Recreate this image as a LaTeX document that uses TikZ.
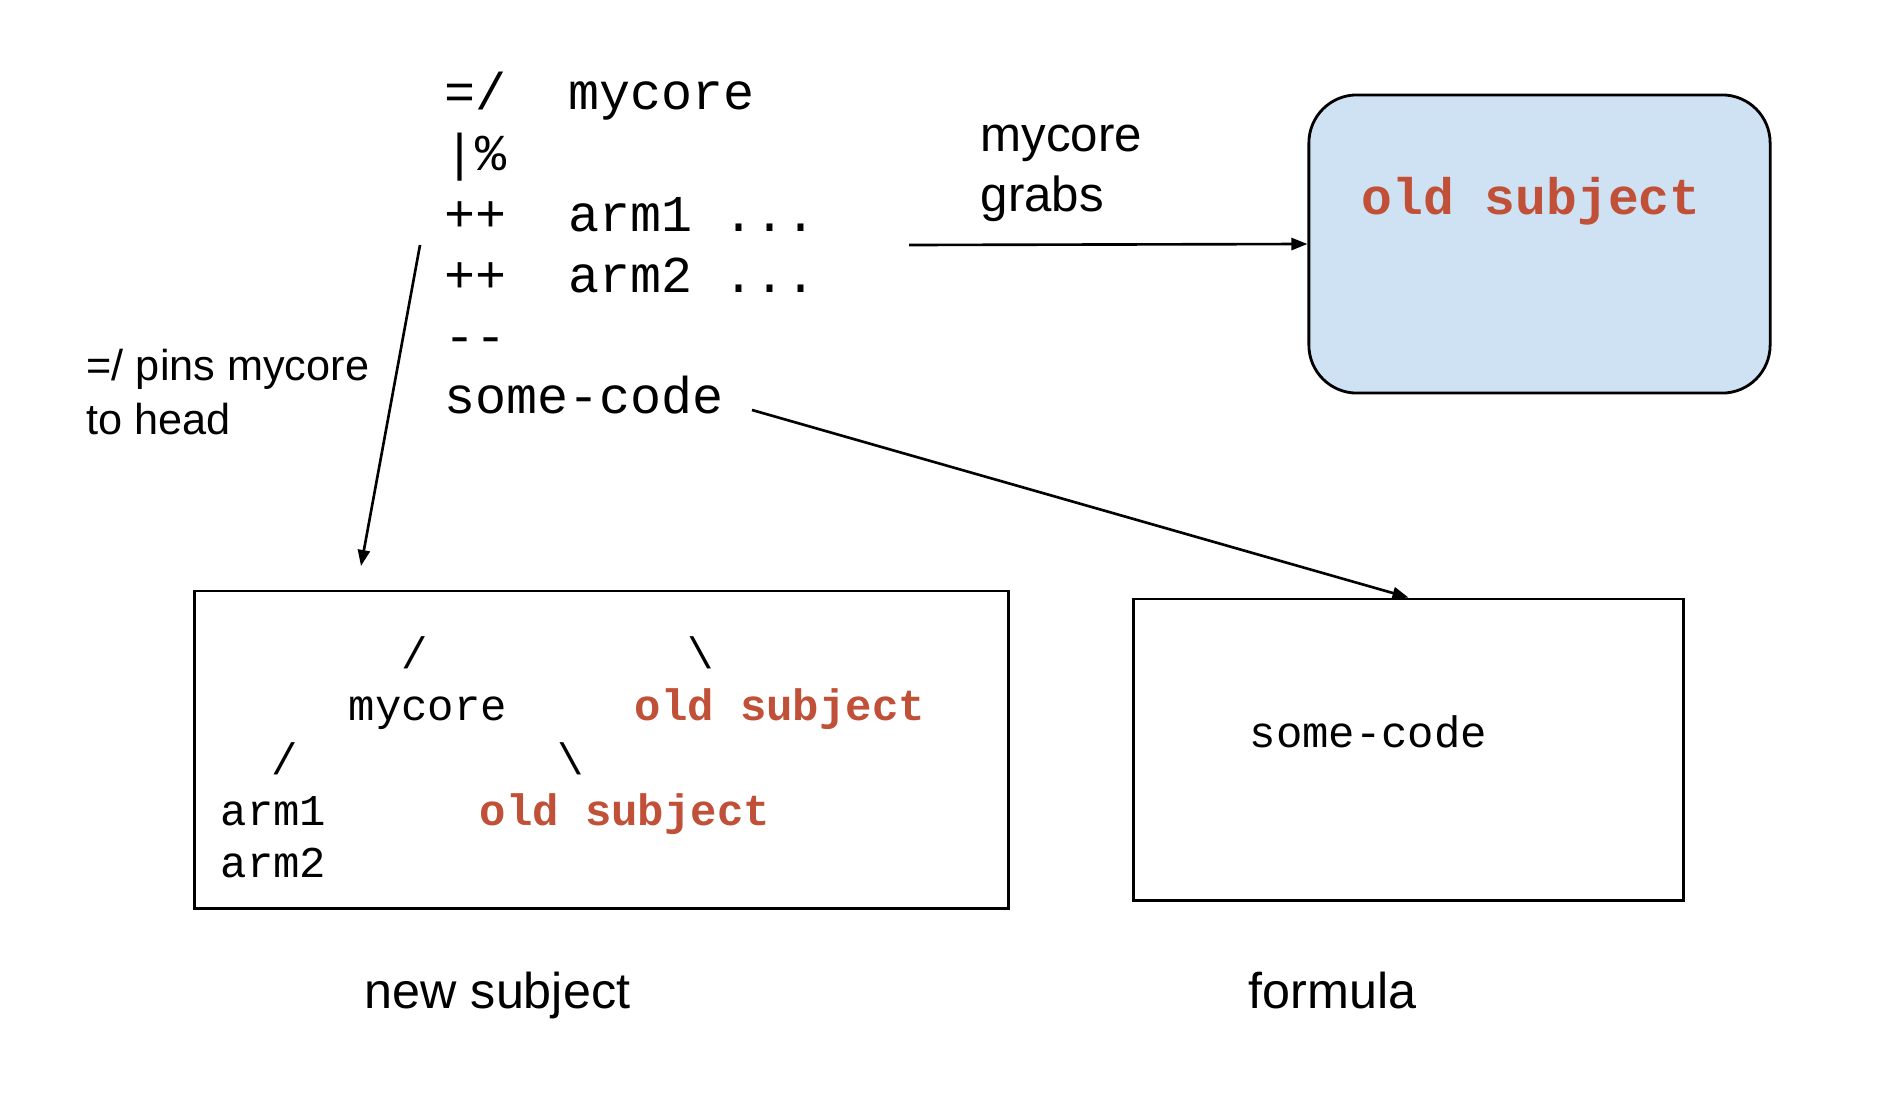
\documentclass[tikz,border=0pt]{standalone}
\usepackage{fontspec}
\setmainfont{Liberation Sans}
\setmonofont{Liberation Mono}
\usetikzlibrary{arrows.meta}
\definecolor{subjred}{RGB}{192,80,56}
\definecolor{subjblue}{RGB}{207,226,243}

\begin{document}
\begin{tikzpicture}[x=0.01cm, y=-0.01cm,
  txt/.style = {inner sep=0pt, anchor=base west},
  code/.style = {txt, font=\ttfamily\fontsize{14.7}{17}\selectfont},
  small/.style = {txt, font=\ttfamily\fontsize{12.5}{15}\selectfont},
  slash/.style = {small, anchor=base},
  oldsmall/.style = {txt, text=subjred, font=\ttfamily\bfseries\fontsize{12.5}{15}\selectfont},
  oldbig/.style = {txt, text=subjred, font=\ttfamily\bfseries\fontsize{14.6}{17}\selectfont},
  caption/.style = {txt, font=\fontsize{14.3}{17}\selectfont},
  box/.style = {draw, line width=0.8pt, inner sep=0pt},
  arr/.style = {-{Triangle[length=0.16cm, width=0.12cm]}, line width=0.75pt}]
\useasboundingbox (0,0) rectangle (1900,1100);

% the code
\node[code] (corehead) at (444,109) {=/\ \ mycore};
\node[code] (pct) at (444,170) {|\%};
\node[code] (arm1) at (444,231) {++\ \ arm1 ...};
\node[code] (arm2) at (444,292) {++\ \ arm2 ...};
\node[code] (dashes) at (444,353) {-{}-};
\node[code] (somecode) at (444,413) {some-code};

% boxes
\node[box, fill=subjblue, rounded corners=0.48cm, minimum width=4.61cm, minimum height=2.98cm] (oldsubj) at (1539.5,244) {};
\node[oldbig] (oldtxt) at (1361,214) {old subject};
\node[box, minimum width=8.13cm, minimum height=3.17cm] (newsubj) at (601.5,749.5) {};
\node[box, minimum width=5.49cm, minimum height=3.01cm] (formula) at (1408.5,749.5) {};

% new subject tree
\node[slash] (s1) at (415,668) {/};
\node[slash] (s2) at (701,668) {\textbackslash};
\node[small] (core) at (348,720) {mycore};
\node[oldsmall] (old1) at (634,720) {old subject};
\node[slash] (s3) at (285,774) {/};
\node[slash] (s4) at (571,774) {\textbackslash};
\node[small] (a1) at (220,825) {arm1};
\node[oldsmall] (old2) at (479,825) {old subject};
\node[small] (a2) at (220,877) {arm2};

% formula
\node[small] (fcode) at (1249,747) {some-code};

% labels
\node[txt, font=\fontsize{14}{16}\selectfont] (grabs1) at (980,151) {mycore};
\node[txt, font=\fontsize{14}{16}\selectfont] (grabs2) at (980,211) {grabs};
\node[txt, font=\fontsize{12.3}{15}\selectfont] (pins1) at (86,380) {=/ pins mycore};
\node[txt, font=\fontsize{12.3}{15}\selectfont] (pins2) at (86,434) {to head};
\node[caption] (newlbl) at (364,1008) {new subject};
\node[caption] (formlbl) at (1248,1008) {formula};

% arrows
\coordinate (grabsfrom) at (909,245);
\coordinate (pinsfrom) at (420,245);
\coordinate (pinsto) at (361,566);
\coordinate (codefrom) at (752,410);
\draw[arr] (grabsfrom) -- (oldsubj.west);
\draw[arr] (pinsfrom) -- (pinsto);
\draw[arr] (codefrom) -- (formula.north);
\end{tikzpicture}
\end{document}
